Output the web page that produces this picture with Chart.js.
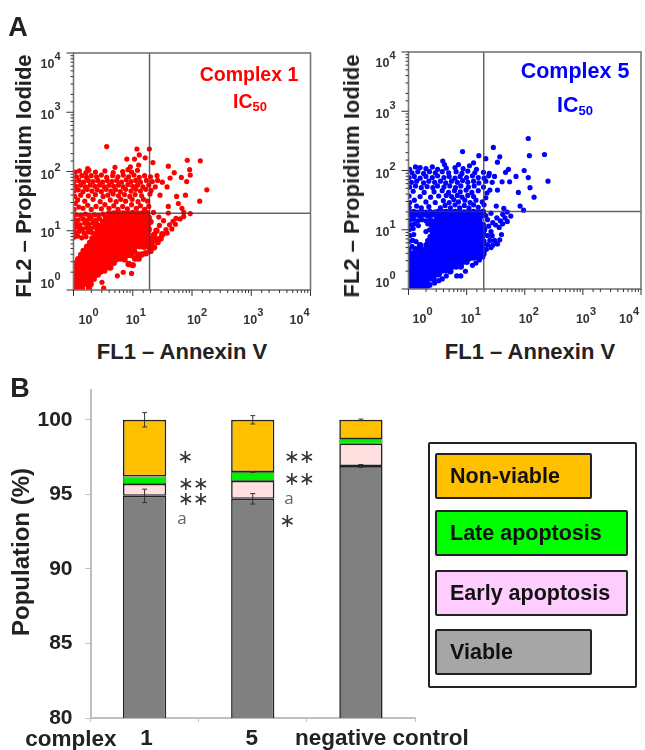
<!DOCTYPE html>
<html>
<head>
<meta charset="utf-8">
<script src="https://cdn.jsdelivr.net/npm/chart.js@4"></script>
<style>
  html, body { margin: 0; background: #fff; }
  body { position: relative; width: 645px; height: 750px; overflow: hidden; font-family: "Liberation Sans", Arial, sans-serif; filter: blur(0.4px); }
  canvas { position: absolute; }
  .t { position: absolute; white-space: nowrap; transform: translate(-50%, -50%); font-weight: bold; color: #222; }
  .v { transform: translate(-50%, -50%) rotate(-90deg); }
  .ax { font-size: 22px; }
  .tag { font-size: 19.5px; }
  .tag sub { font-size: 13px; vertical-align: -3px; line-height: 0; }
  .star { font-family: "DejaVu Sans"; font-weight: normal; font-size: 19px; color: #333; letter-spacing: -1px; }
  .a { font-family: "Open Sans"; font-weight: normal; font-size: 17px; color: #666; }
  .xl { font-size: 22.5px; }
  #legend { position: absolute; left: 428px; top: 442px; width: 205px; height: 242px; border: 2px solid #222; border-radius: 2px; }
  .key { position: absolute; box-sizing: border-box; left: 5px; height: 46px; border: 2px solid #222; border-radius: 2px; padding-left: 13px; line-height: 42px; font-size: 21.5px; font-weight: bold; color: #111; white-space: nowrap; }
</style>
</head>
<body>
<canvas id="flow1" style="left:0;top:0"></canvas>
<canvas id="flow5" style="left:335px;top:0"></canvas>
<canvas id="bars" style="left:0;top:370px"></canvas>

<div class="t" style="left:18px;top:27px;font-size:27px">A</div>
<div class="t" style="left:20px;top:388px;font-size:27px">B</div>

<div class="t v ax" style="left:24px;top:176px">FL2 – Propidium Iodide</div>
<div class="t ax" style="left:182px;top:352px">FL1 – Annexin V</div>
<div class="t v ax" style="left:352px;top:176px">FL2 – Propidium Iodide</div>
<div class="t ax" style="left:530px;top:352px">FL1 – Annexin V</div>

<div class="t tag" style="left:249px;top:74px;color:#f00">Complex 1</div>
<div class="t tag" style="left:250px;top:101px;color:#f00">IC<sub>50</sub></div>
<div class="t tag" style="left:575px;top:71px;color:#00f;font-size:21.5px">Complex 5</div>
<div class="t tag" style="left:575px;top:105px;color:#00f;font-size:21.5px">IC<sub>50</sub></div>

<div class="t v" style="left:21px;top:552px;font-size:24px">Population (%)</div>
<div class="t xl" style="left:71px;top:739px">complex</div>

<div class="t star" style="left:185px;top:456px">∗</div>
<div class="t star" style="left:193px;top:483px">∗∗</div>
<div class="t star" style="left:193px;top:498px">∗∗</div>
<div class="t a" style="left:182px;top:517px">a</div>
<div class="t star" style="left:299px;top:456px">∗∗</div>
<div class="t star" style="left:299px;top:478px">∗∗</div>
<div class="t a" style="left:289px;top:497px">a</div>
<div class="t star" style="left:287px;top:520px">∗</div>

<div id="legend">
  <div class="key" style="top:9px;width:157px;background:#ffc000">Non-viable</div>
  <div class="key" style="top:66px;width:193px;background:#00ff00">Late apoptosis</div>
  <div class="key" style="top:126px;width:193px;background:#ffccff">Early apoptosis</div>
  <div class="key" style="top:185px;width:157px;background:#a6a6a6">Viable</div>
</div>

<script>
// panel A, values as [log10 FL1, log10 FL2]
const c1Mass = [
  [.01,.02],[.07,.05],[.14,.03],[.26,.04],[.29,.1],[.03,.09],[.1,.11],[.17,.1],[.23,.12],
  [.01,.16],[.07,.18],[.14,.17],[.21,.18],[.27,.17],[.34,.19],[.02,.24],[.08,.25],[.15,.24],
  [.22,.25],[.28,.24],[.35,.25],[.41,.26],[.01,.31],[.07,.32],[.13,.31],[.2,.31],[.26,.32],[.33,.31],
  [.39,.32],[.45,.31],[.52,.33],[.03,.38],[.09,.38],[.16,.39],[.22,.38],[.29,.38],[.35,.39],[.42,.38],
  [.48,.38],[.55,.39],[.62,.38],[.02,.45],[.09,.45],[.15,.46],[.22,.45],[.28,.45],[.35,.46],
  [.41,.45],[.48,.45],[.54,.46],[.61,.45],[.68,.46],[.08,.52],[.14,.52],[.2,.53],
  [.27,.52],[.33,.52],[.4,.53],[.46,.52],[.53,.52],[.59,.53],[.66,.52],[.72,.52],[.79,.53],[.86,.52],
  [.93,.44],[1,.42],[.13,.59],[.19,.59],[.26,.6],[.32,.59],[.39,.59],[.45,.6],[.52,.59],[.58,.59],
  [.65,.6],[.71,.59],[.78,.59],[.84,.6],[.91,.59],[.97,.59],[1.04,.53],[1.1,.53],[.17,.66],[.24,.66],
  [.3,.67],[.37,.66],[.43,.66],[.5,.67],[.56,.66],[.63,.66],[.69,.67],[.76,.66],[.82,.66],[.89,.67],
  [.95,.66],[1.02,.66],[1.08,.6],[1.15,.6],[1.22,.62],[1.3,.66],[.23,.73],[.31,.73],[.39,.74],[.47,.73],
  [.55,.73],[.63,.74],[.71,.73],[.79,.73],[.87,.74],[.95,.73],[1.03,.73],[1.11,.74],[1.19,.73],[1.27,.73],
  [1.36,.72],[.28,.8],[.36,.8],[.44,.81],[.52,.8],[.6,.8],[.68,.81],[.76,.8],[.84,.8],[.92,.81],
  [1,.8],[1.08,.8],[1.16,.81],[1.24,.8],[1.32,.8],[1.42,.81],[.32,.87],[.4,.87],[.48,.88],[.56,.87],
  [.64,.87],[.72,.88],[.8,.87],[.88,.87],[.96,.88],[1.04,.87],[1.12,.87],[1.2,.88],[1.28,.87],[1.38,.86],
  [1.47,.87],[.37,.94],[.45,.94],[.53,.95],[.61,.94],[.69,.94],[.77,.95],[.85,.94],[.93,.94],[1.01,.95],
  [1.09,.94],[1.17,.94],[1.25,.95],[1.36,.93],[1.5,.94],[.41,1.01],[.49,1.01],[.57,1.02],[.65,1.01],
  [.73,1.01],[.81,1.02],[.89,1.01],[.97,1.01],[1.05,1.02],[1.13,1.01],[1.21,1.01],[1.27,1.02],[1.4,1.0],
  [.45,1.08],[.53,1.08],[.61,1.09],[.69,1.08],[.77,1.08],[.85,1.09],[.93,1.08],[1.01,1.08],[1.09,1.09],
  [1.17,1.08],[1.25,1.08],[.5,1.15],[.58,1.15],[.66,1.16],[.74,1.15],[.82,1.15],
  [.9,1.16],[.98,1.15],[1.06,1.15],[1.14,1.16],[1.22,1.15],[1.3,1.15],[.55,1.22],[.63,1.22],
  [.71,1.23],[.79,1.22],[.87,1.22],[.95,1.23],[1.03,1.22],[1.11,1.22],[1.19,1.23],[1.27,1.22],[.6,1.29],[.68,1.29],[.76,1.3],[.84,1.29],[.92,1.29],[1,1.3],[1.08,1.29],[1.16,1.29],[1.24,1.3],
];
const c1Left = [
  [.01,.89],[.07,.91],[.14,.88],[.21,.9],[.03,.97],[.1,.99],[.18,.96],[.25,.98],[.31,.97],[.01,1.04],
  [.08,1.06],[.15,1.03],[.22,1.05],[.29,1.04],[.36,1.06],[.04,1.12],[.11,1.1],[.19,1.13],[.26,1.11],[.33,1.13],
  [.4,1.11],[.01,1.19],[.08,1.18],[.16,1.2],[.23,1.18],[.3,1.2],[.38,1.18],[.44,1.2],[.04,1.27],[.12,1.26],
  [.2,1.28],[.27,1.25],[.35,1.27],[.42,1.26],[.5,1.28],
];
const c1Upper = [
  [.01,1.36],[.09,1.4],[.03,1.46],[.16,1.38],[.24,1.43],[.3,1.36],[.38,1.41],[.47,1.37],[.53,1.44],[.6,1.38],
  [.68,1.42],[.75,1.36],[.83,1.41],[.91,1.37],[.98,1.44],[1.06,1.38],[1.13,1.42],[1.2,1.36],[1.27,1.41],[.07,1.52],
  [.19,1.5],[.33,1.53],[.45,1.49],[.62,1.52],[.72,1.49],[.8,1.53],[.88,1.5],[.99,1.53],[1.09,1.49],[1.18,1.53],
  [1.25,1.5],[.02,1.58],[.12,1.6],[.25,1.59],[.37,1.61],[.5,1.58],[.58,1.6],[.67,1.62],[.76,1.59],[.86,1.61],
  [.95,1.58],[1.04,1.61],[1.15,1.59],[1.29,1.62],[.01,1.67],[.08,1.69],[.16,1.66],[.23,1.7],[.31,1.67],[.4,1.69],
  [.47,1.66],[.55,1.7],[.63,1.67],[.71,1.69],[.79,1.66],[.88,1.7],[.97,1.67],[1.05,1.7],[1.13,1.67],[1.22,1.7],
  [1.31,1.68],[.04,1.75],[.12,1.77],[.2,1.74],[.28,1.77],[.36,1.75],[.44,1.77],[.52,1.74],[.6,1.77],[.68,1.75],
  [.76,1.77],[.84,1.74],[.92,1.78],[1,1.75],[1.08,1.77],[1.17,1.74],[1.27,1.77],[1.38,1.74],[.01,1.83],[.09,1.85],
  [.17,1.82],[.25,1.85],[.33,1.83],[.41,1.85],[.49,1.82],[.57,1.85],[.65,1.83],[.73,1.85],[.81,1.82],[.89,1.86],
  [.97,1.83],[1.05,1.85],[1.13,1.82],[1.23,1.85],[1.33,1.83],[1.42,1.85],[.05,1.91],[.14,1.93],[.22,1.9],[.3,1.93],
  [.39,1.91],[.47,1.94],[.56,1.9],[.66,1.93],[.75,1.91],[.84,1.94],[.93,1.91],[1.02,1.94],[1.11,1.9],[1.2,1.93],
  [1.3,1.91],[1.41,1.93],[.03,1.99],[.1,2.01],[.21,1.98],[.26,2.02],[.37,1.99],[.53,2.01],[.67,1.98],[.83,2.0],
  [.92,2.03],[.98,1.99],[1.08,2.02],[.24,2.05],[.7,2.07],[.96,2.08],
];
const c1Stray = [
  [.56,2.42],[1.07,2.38],[1.28,2.38],[1.11,2.28],[1.21,2.23],[.9,2.21],[1.03,2.21],[1.1,2.11],[1.34,2.15],[1.6,2.09],
  [1.92,2.19],[2.14,2.18],[1.96,2.03],[2.25,1.69],[2.13,1.5],[1.7,1.98],[1.97,1.94],[1.91,1.83],[1.82,1.9],[1.89,1.6],
  [1.74,1.58],[1.77,1.46],[1.6,1.41],[1.83,1.38],[1.97,1.29],[1.86,1.24],[1.63,1.89],[1.58,1.74],[1.46,1.6],[1.5,1.82],
  [.51,.03],[.48,.13],[.74,.24],[.84,.3],[.98,.28],[1.58,.96],[1.56,1.02],[1.66,1.03],[1.45,1.09],[1.62,1.1],
  [1.72,1.11],[1.52,1.17],[1.68,1.16],[1.44,1.23],[1.73,1.21],[1.8,1.2],[1.35,1.31],[1.6,1.3],[1.86,1.31],
];
const c5Mass = [
  [.01,.02],[.08,.04],[.15,.02],[.22,.05],[.3,.03],[.36,.07],[.03,.1],[.1,.11],[.17,.1],[.24,.11],
  [.31,.1],[.01,.17],[.08,.18],[.15,.17],[.22,.18],[.29,.17],[.36,.18],[.43,.17],
  [.03,.24],[.1,.25],[.17,.24],[.24,.25],[.31,.24],[.38,.25],[.45,.24],[.52,.25],
  [.01,.31],[.08,.32],[.15,.31],[.22,.32],[.29,.31],[.36,.32],[.43,.31],[.5,.32],
  [.57,.31],[.64,.32],[.72,.3],[.05,.39],[.12,.39],[.19,.38],[.26,.39],[.33,.39],[.4,.38],
  [.47,.39],[.54,.39],[.61,.38],[.68,.39],[.75,.38],[.82,.38],[.9,.38],[.02,.46],[.09,.46],
  [.16,.45],[.23,.46],[.3,.46],[.37,.45],[.44,.46],[.51,.46],[.58,.45],[.65,.46],[.72,.46],[.79,.45],
  [.86,.46],[.93,.46],[1,.46],[.06,.53],[.13,.53],[.2,.52],[.27,.53],[.34,.53],
  [.41,.52],[.48,.53],[.55,.53],[.62,.52],[.69,.53],[.76,.53],[.83,.52],[.9,.53],[.97,.53],[1.04,.52],
  [1.11,.53],[1.19,.54],[1.27,.55],[.03,.6],[.11,.6],[.18,.59],[.25,.6],[.32,.6],[.39,.59],[.46,.6],
  [.53,.6],[.6,.59],[.67,.6],[.74,.6],[.81,.59],[.88,.6],[.95,.6],[1.02,.59],[1.09,.6],[1.16,.6],
  [1.23,.59],[1.29,.6],[.12,.67],[.2,.67],[.28,.66],[.36,.67],[.44,.67],[.52,.66],[.6,.67],[.68,.67],
  [.76,.66],[.84,.67],[.92,.67],[1,.66],[1.08,.67],[1.16,.67],[1.24,.66],[.2,.74],
  [.31,.74],[.39,.73],[.47,.74],[.55,.74],[.63,.73],[.71,.74],[.79,.74],[.87,.73],[.95,.74],[1.03,.74],
  [1.11,.73],[1.19,.74],[1.27,.74],[.34,.81],[.42,.81],[.5,.8],[.58,.81],
  [.66,.81],[.74,.8],[.82,.81],[.9,.81],[.98,.8],[1.06,.81],[1.14,.81],[1.22,.8],[.38,.88],[.46,.88],[.54,.87],[.62,.88],[.7,.88],[.78,.87],[.86,.88],[.94,.88],
  [1.02,.87],[1.1,.88],[1.18,.88],[1.26,.87],[.42,.95],[.5,.95],[.58,.94],
  [.66,.95],[.74,.95],[.82,.94],[.9,.95],[.98,.95],[1.06,.94],[1.14,.95],[1.22,.95],[1.28,.94],
  [.42,1.02],[.5,1.02],[.58,1.01],[.66,1.02],[.74,1.02],[.82,1.01],[.9,1.02],[.98,1.02],[1.06,1.01],
  [1.14,1.02],[1.22,1.02],[1.3,1.0],[.4,1.09],[.48,1.09],[.56,1.08],[.64,1.09],
  [.72,1.09],[.8,1.08],[.88,1.09],[.96,1.09],[1.04,1.08],[1.12,1.09],[1.2,1.09],[1.28,1.08],
  [.5,1.16],[.58,1.16],[.66,1.15],[.74,1.16],[.82,1.16],[.9,1.15],[.98,1.16],[1.06,1.16],[1.14,1.15],
  [1.22,1.16],[.52,1.23],[.6,1.23],[.68,1.22],[.76,1.23],[.84,1.23],[.92,1.22],
  [1,1.23],[1.08,1.23],[1.16,1.22],[1.24,1.23],[.56,1.3],[.64,1.3],[.72,1.29],
  [.8,1.3],[.88,1.3],[.96,1.29],[1.04,1.3],[1.12,1.3],[1.2,1.29],[1.28,1.3],
];
const c5Left = [
  [.01,.67],[.06,.72],[.01,.8],[.07,.82],[.13,.8],[.02,.9],[.09,.92],[.01,1],[.08,1.02],[.3,.97],
  [.36,1.0],[.04,1.08],[.1,1.1],[.17,1.07],[.33,1.1],[.02,1.16],[.09,1.18],[.16,1.15],[.23,1.17],[.3,1.15],
  [.38,1.17],[.45,1.15],[.05,1.24],[.12,1.25],[.19,1.23],[.26,1.25],[.33,1.23],[.4,1.25],[.47,1.23],[.02,1.31],
  [.09,1.31],[.16,1.3],[.23,1.31],[.3,1.3],[.37,1.31],[.44,1.3],[.5,1.31],
];
const c5Upper = [
  [.01,1.38],[.14,1.4],[.22,1.37],[.35,1.39],[.55,1.37],[.63,1.41],[.72,1.37],[.8,1.42],[.88,1.37],[.96,1.41],
  [1.04,1.37],[1.12,1.42],[1.2,1.38],[1.3,1.42],[.02,1.46],[.1,1.5],[.3,1.47],[.46,1.46],[.6,1.49],[.7,1.46],
  [.78,1.51],[.86,1.47],[.97,1.5],[1.06,1.46],[1.16,1.5],[1.27,1.47],[1.33,1.54],[.01,1.57],[.2,1.56],[.38,1.55],
  [.52,1.57],[.65,1.58],[.74,1.56],[.84,1.58],[.92,1.55],[1.02,1.58],[1.12,1.56],[.08,1.65],[.27,1.63],[.44,1.64],
  [.58,1.66],[.69,1.63],[.79,1.66],[.89,1.64],[.99,1.67],[1.09,1.63],[1.2,1.66],[1.35,1.62],[.02,1.72],[.12,1.74],
  [.22,1.71],[.32,1.73],[.42,1.71],[.5,1.74],[.61,1.72],[.71,1.74],[.81,1.71],[.9,1.74],[1.03,1.72],[1.13,1.74],
  [1.29,1.72],[.05,1.8],[.14,1.82],[.26,1.79],[.35,1.82],[.45,1.8],[.55,1.82],[.64,1.79],[.74,1.82],[.84,1.8],
  [.93,1.83],[1.02,1.8],[1.12,1.82],[1.21,1.79],[1.33,1.82],[1.44,1.8],[.01,1.88],[.1,1.9],[.2,1.87],[.3,1.9],
  [.41,1.88],[.5,1.91],[.61,1.88],[.7,1.9],[.8,1.87],[.89,1.9],[1,1.88],[1.1,1.91],[1.2,1.88],[1.3,1.87],
  [1.38,1.91],[1.48,1.9],[.06,1.96],[.16,1.98],[.26,1.95],[.36,1.98],[.46,1.96],[.58,1.98],[.69,1.96],[.82,1.98],
  [.92,1.95],[1.02,1.99],[1.14,1.96],[1.29,1.97],[1.39,1.95],[.02,2.02],[.12,2.06],[.2,2.05],[.3,2.03],[.41,2.06],
  [.5,2.02],[.65,2.04],[.8,2.05],[.86,2.1],[.94,2.03],[1.05,2.08],[1.17,2.02],[1.12,2.13],[.62,2.1],
];
const c5Stray = [
  [2.06,2.54],[1.46,2.39],[.93,2.32],[2.08,2.25],[2.34,2.27],[1.57,2.23],[1.53,2.14],[1.33,2.2],[1.21,2.25],[.59,2.16],
  [1.72,2.02],[1.99,2],[2.06,1.88],[2.4,1.82],[1.85,1.9],[2.09,1.71],[2.16,1.55],[1.89,1.63],[1.74,1.81],[1.61,1.81],
  [1.53,1.67],[1.4,1.67],[1.51,1.4],[1.64,1.36],[1.92,1.4],[1.98,1.33],[1.67,1.97],
  [.45,.1],[.52,.14],[.58,.17],[.65,.22],[.83,.22],[.9,.22],[.98,.3],[1.1,.4],[1.16,.44],[1.22,.49],
  [1.34,.67],[1.42,.7],[1.36,.75],[1.45,.74],[1.53,.76],[1.3,.81],[1.4,.82],[1.48,.82],[1.57,.83],[1.36,.9],
  [1.44,.9],[1.6,.92],[1.42,.97],[1.56,1.04],[1.38,1.06],[1.5,1.08],[1.62,1.1],[1.45,1.12],[1.58,1.15],[1.7,1.14],
  [1.36,1.17],[1.52,1.2],[1.66,1.2],[1.33,1.24],[1.62,1.26],[1.76,1.23],[1.42,1.28],[1.7,1.3],
];
const c1Gate = { fl1: 19.2, fl2: 19.7 };
const c5Gate = { fl1: 19.7, fl2: 20.4 };
const decades = [1, 10, 100, 1000, 10000];

// panel B
const categories = ["1", "5", "negative control"];
const viable = [94.9, 94.7, 96.9];
const earlyApoptosis = [0.8, 1.2, 1.5];
const lateApoptosis = [0.5, 0.6, 0.3];
const nonViable = [3.8, 3.5, 1.3];
const viableErr = [0.45, 0.35, 0.1];
const lateErr = [0, 0.03, 0];
const nonViableErr = [0.48, 0.28, 0.05];
const popTicks = [80, 85, 90, 95, 100];

const toPoints = (pairs) => pairs.map(([x, y]) => ({ x: 10 ** x, y: 10 ** y }));

function drawPower(ctx, x, y, power) {
  ctx.textAlign = "left";
  ctx.font = "bold 12.5px 'Liberation Sans'";
  ctx.fillText("10", x, y);
  ctx.font = "bold 11px 'Liberation Sans'";
  ctx.fillText(String(power), x + 14, y - 8);
}

function makeFlowChart(id, size, pad, color, dense, sparse, gate, xShift, yShift) {
  const canvas = document.getElementById(id);
  canvas.width = size[0];
  canvas.height = size[1];

  // ticks, tick labels and the frame are drawn from the chart's own scales
  const axisPlugin = {
    id: "flowAxes",
    afterDraw(chart) {
      const { ctx, chartArea: a, scales } = chart;
      ctx.save();
      ctx.strokeStyle = "#777";
      ctx.lineWidth = 1.6;
      ctx.strokeRect(a.left, a.top, a.right - a.left, a.bottom - a.top);
      ctx.strokeStyle = "#333";
      ctx.lineWidth = 1;
      for (const t of scales.x.ticks) {
        const px = scales.x.getPixelForValue(t.value);
        ctx.beginPath();
        ctx.moveTo(px, a.bottom);
        ctx.lineTo(px, a.bottom + (decades.includes(t.value) ? 6 : 3));
        ctx.stroke();
      }
      for (const t of scales.y.ticks) {
        const px = scales.y.getPixelForValue(t.value);
        ctx.beginPath();
        ctx.moveTo(a.left, px);
        ctx.lineTo(a.left - (decades.includes(t.value) ? 7 : 3), px);
        ctx.stroke();
      }
      ctx.fillStyle = "#333";
      ctx.textBaseline = "middle";
      decades.forEach((v, i) => {
        drawPower(ctx, scales.x.getPixelForValue(v) + xShift[i] - 10, a.bottom + 31, i);
        drawPower(ctx, a.left - 33, scales.y.getPixelForValue(v) + yShift[i], i);
      });
      ctx.restore();
    },
  };

  const hidden = { display: false, drawTicks: false };
  new Chart(canvas, {
    type: "scatter",
    data: {
      datasets: [
        { type: "line", data: [{ x: gate.fl1, y: 1 }, { x: gate.fl1, y: 10000 }], borderColor: "rgba(60,60,60,0.8)", borderWidth: 1.5, pointRadius: 0 },
        { type: "line", data: [{ x: 1, y: gate.fl2 }, { x: 10000, y: gate.fl2 }], borderColor: "rgba(60,60,60,0.8)", borderWidth: 1.5, pointRadius: 0 },
        { data: toPoints(dense), backgroundColor: color, borderWidth: 0, pointRadius: 3.2 },
        { data: toPoints(sparse), backgroundColor: color, borderWidth: 0, pointRadius: 2.6 },
      ],
    },
    options: {
      responsive: false,
      animation: false,
      layout: { padding: { left: pad[0], top: pad[1], right: pad[2], bottom: pad[3] } },
      plugins: { legend: { display: false }, tooltip: { enabled: false } },
      scales: {
        x: { type: "logarithmic", min: 1, max: 10000, grid: hidden, border: { display: false }, ticks: { display: false, autoSkip: false } },
        y: { type: "logarithmic", min: 1, max: 10000, grid: hidden, border: { display: false }, ticks: { display: false, autoSkip: false } },
      },
    },
    plugins: [axisPlugin],
  });
}

makeFlowChart("flow1", [335, 335], [73.5, 53, 24.5, 45], "#ff0000",
  c1Mass, [...c1Left, ...c1Upper, ...c1Stray], c1Gate,
  [15, 3, 5, 2, -11], [-5, 3, 4, 3, 12]);
makeFlowChart("flow5", [310, 335], [73.5, 52, 0, 46], "#0000ff",
  c5Mass, [...c5Left, ...c5Upper, ...c5Stray], c5Gate,
  [14, 4, 4, 3, -12], [-5, 3, 4, 3, 12]);

const barCanvas = document.getElementById("bars");
barCanvas.width = 480;
barCanvas.height = 380;

// error bars sit on the running total of each stack
const errorBars = {
  id: "errorBars",
  afterDatasetsDraw(chart) {
    const { ctx, scales } = chart;
    const totals = categories.map(() => 0);
    const sets = [
      [viable, viableErr],
      [earlyApoptosis, null],
      [lateApoptosis, lateErr],
      [nonViable, nonViableErr],
    ];
    ctx.save();
    ctx.strokeStyle = "#333";
    ctx.lineWidth = 1;
    for (const [vals, errs] of sets) {
      vals.forEach((v, i) => {
        totals[i] += v;
        if (!errs || !errs[i]) return;
        const x = scales.x.getPixelForValue(i);
        const hi = scales.y.getPixelForValue(totals[i] + errs[i]);
        const lo = scales.y.getPixelForValue(totals[i] - errs[i]);
        ctx.beginPath();
        ctx.moveTo(x, hi);
        ctx.lineTo(x, lo);
        ctx.moveTo(x - 2.5, hi);
        ctx.lineTo(x + 2.5, hi);
        ctx.moveTo(x - 2.5, lo);
        ctx.lineTo(x + 2.5, lo);
        ctx.stroke();
      });
    }
    ctx.restore();
  },
};

const xLabelShift = [2, -1, 21];
const xLabels = {
  id: "xLabels",
  afterDraw(chart) {
    const { ctx, scales } = chart;
    ctx.save();
    ctx.font = "bold 22.5px 'Liberation Sans'";
    ctx.fillStyle = "#222";
    ctx.textAlign = "center";
    ctx.textBaseline = "middle";
    categories.forEach((c, i) => {
      ctx.fillText(c, scales.x.getPixelForValue(i) + xLabelShift[i], 369);
    });
    ctx.restore();
  },
};

const barStyle = { borderColor: "#222", borderWidth: 1.6, borderSkipped: false, barPercentage: 0.4, categoryPercentage: 1 };

new Chart(barCanvas, {
  type: "bar",
  data: {
    labels: categories,
    datasets: [
      { label: "Viable", data: viable, backgroundColor: "#808080", ...barStyle },
      { label: "Early apoptosis", data: earlyApoptosis, backgroundColor: "#ffdfdf", ...barStyle },
      { label: "Late apoptosis", data: lateApoptosis, backgroundColor: "#00f000", ...barStyle, borderWidth: 0.8 },
      { label: "Non-viable", data: nonViable, backgroundColor: "#ffc000", ...barStyle },
    ],
  },
  options: {
    responsive: false,
    animation: false,
    layout: { padding: { top: 20, right: 65 } },
    plugins: { legend: { display: false }, tooltip: { enabled: false } },
    scales: {
      x: {
        stacked: true,
        afterFit: (s) => { s.height = 32; s.paddingLeft = 0; s.paddingRight = 0; },
        grid: { drawOnChartArea: false, tickLength: 4, color: "#bfbfbf" },
        border: { color: "#bfbfbf", width: 2 },
        ticks: { display: false },
      },
      y: {
        stacked: true,
        min: 80,
        max: 102,
        afterFit: (s) => { s.width = 90.5; s.paddingTop = 0; s.paddingBottom = 0; },
        afterBuildTicks: (s) => { s.ticks = popTicks.map((value) => ({ value })); },
        grid: { drawOnChartArea: false, tickLength: 5, color: "#bfbfbf" },
        border: { color: "#bfbfbf", width: 2 },
        ticks: { color: "#222", padding: 13, font: { family: "Liberation Sans", size: 21, weight: "bold" } },
      },
    },
  },
  plugins: [errorBars, xLabels],
});
</script>
</body>
</html>
